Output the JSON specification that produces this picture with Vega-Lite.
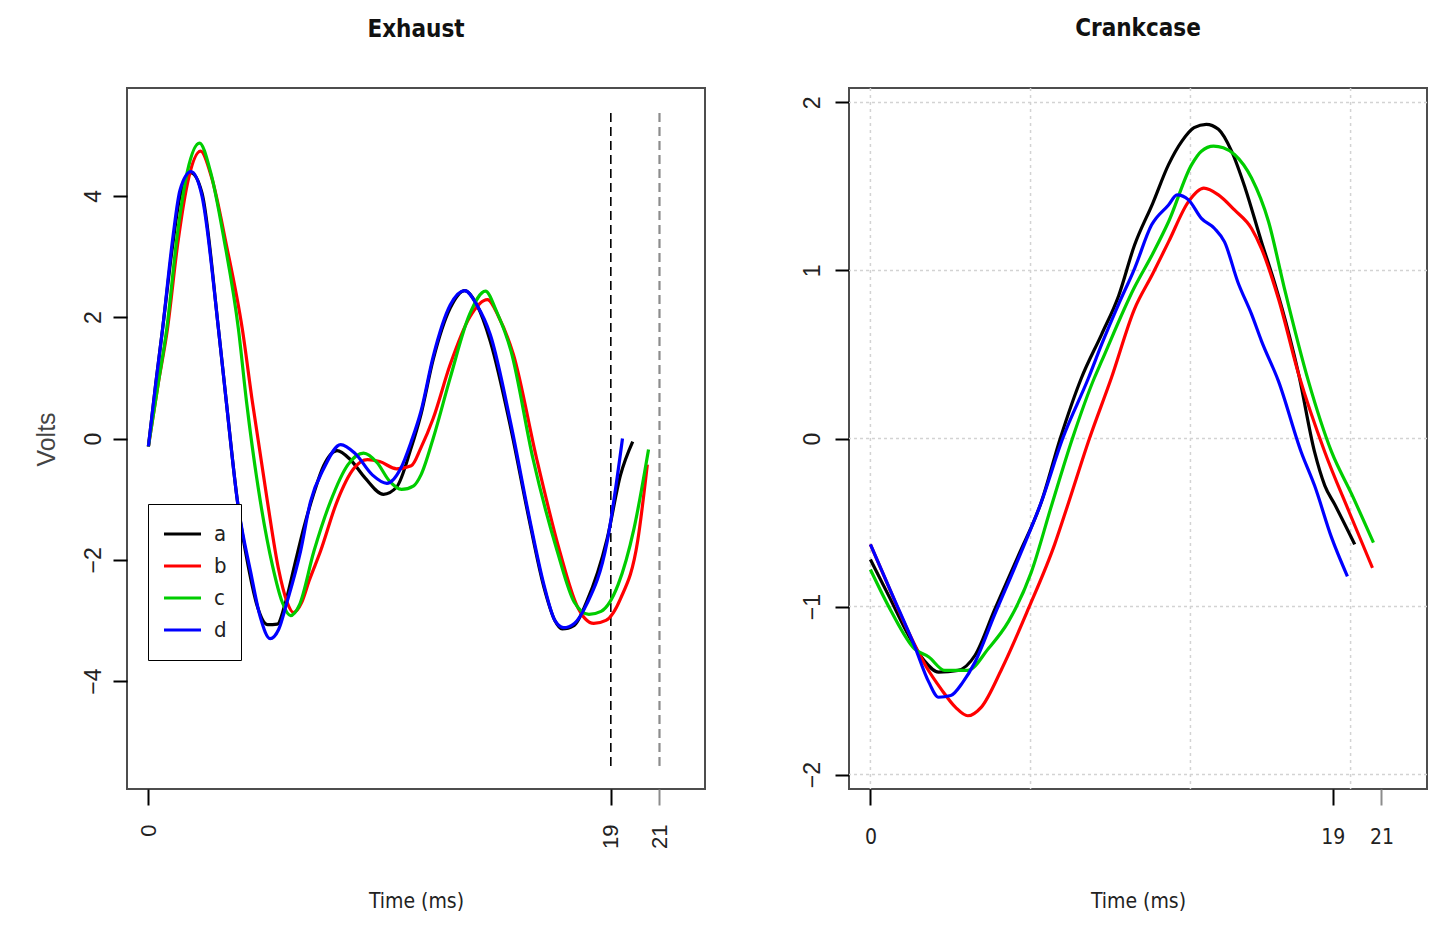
{
  "$schema": "https://vega.github.io/schema/vega-lite/v6.json",
  "background": "white",
  "padding": {"left": 33, "top": 16, "right": 5, "bottom": 5},
  "bounds": "flush",
  "spacing": 144,
  "resolve": {"scale": {"color": "independent"}, "legend": {"color": "independent"}},
  "config": {
    "view": {"stroke": "#4d4d4d", "strokeWidth": 2},
    "axis": {"domain": false, "grid": false, "tickWidth": 2, "labelColor": "#222", "titleColor": "#222", "titleFontWeight": "normal", "labelFont": "Liberation Sans", "titleFont": "Liberation Sans Narrow, DejaVu Sans Condensed, Liberation Sans, sans-serif"},
    "title": {"font": "Liberation Sans Narrow, DejaVu Sans Condensed, Liberation Sans, sans-serif", "fontSize": 24, "fontWeight": "bold", "color": "#111", "anchor": "middle"},
    "line": {"strokeWidth": 3.2, "interpolate": "monotone"}
  },
  "datasets": {
    "exhaust": [
      {"s":"a","t":0,"v":-0.13},{"s":"a","t":0.3,"v":0.9},{"s":"a","t":0.58,"v":1.8},{"s":"a","t":1.0,"v":3.2},{"s":"a","t":1.3,"v":4.0},{"s":"a","t":1.75,"v":4.38},{"s":"a","t":2.2,"v":4.05},{"s":"a","t":2.88,"v":1.8},{"s":"a","t":3.2,"v":0.61},{"s":"a","t":3.66,"v":-1.04},{"s":"a","t":4.1,"v":-2.1},{"s":"a","t":4.5,"v":-2.8},{"s":"a","t":4.9,"v":-3.07},{"s":"a","t":5.3,"v":-3.06},{"s":"a","t":5.6,"v":-2.75},{"s":"a","t":6.0,"v":-2.1},{"s":"a","t":6.4,"v":-1.45},{"s":"a","t":6.8,"v":-0.9},{"s":"a","t":7.2,"v":-0.45},{"s":"a","t":7.75,"v":-0.2},{"s":"a","t":8.3,"v":-0.35},{"s":"a","t":8.9,"v":-0.65},{"s":"a","t":9.66,"v":-0.92},{"s":"a","t":10.2,"v":-0.8},{"s":"a","t":10.8,"v":-0.15},{"s":"a","t":11.2,"v":0.4},{"s":"a","t":11.7,"v":1.3},{"s":"a","t":12.4,"v":2.15},{"s":"a","t":13.0,"v":2.44},{"s":"a","t":13.5,"v":2.2},{"s":"a","t":14.05,"v":1.6},{"s":"a","t":14.9,"v":0.15},{"s":"a","t":15.6,"v":-1.25},{"s":"a","t":16.25,"v":-2.45},{"s":"a","t":16.7,"v":-3.0},{"s":"a","t":17.0,"v":-3.14},{"s":"a","t":17.5,"v":-3.08},{"s":"a","t":18.0,"v":-2.7},{"s":"a","t":18.85,"v":-1.65},{"s":"a","t":19.4,"v":-0.6},{"s":"a","t":19.9,"v":-0.05},
      {"s":"b","t":0,"v":-0.13},{"s":"b","t":0.4,"v":0.9},{"s":"b","t":0.78,"v":1.8},{"s":"b","t":1.2,"v":3.2},{"s":"b","t":1.6,"v":4.2},{"s":"b","t":2.14,"v":4.74},{"s":"b","t":2.6,"v":4.3},{"s":"b","t":3.2,"v":3.2},{"s":"b","t":3.86,"v":1.8},{"s":"b","t":4.27,"v":0.61},{"s":"b","t":4.89,"v":-1.04},{"s":"b","t":5.34,"v":-2.14},{"s":"b","t":5.7,"v":-2.7},{"s":"b","t":5.96,"v":-2.87},{"s":"b","t":6.3,"v":-2.7},{"s":"b","t":6.6,"v":-2.35},{"s":"b","t":7.07,"v":-1.86},{"s":"b","t":7.75,"v":-1.04},{"s":"b","t":8.43,"v":-0.5},{"s":"b","t":9.0,"v":-0.35},{"s":"b","t":9.5,"v":-0.38},{"s":"b","t":10.2,"v":-0.5},{"s":"b","t":10.8,"v":-0.45},{"s":"b","t":11.2,"v":-0.15},{"s":"b","t":11.7,"v":0.33},{"s":"b","t":12.4,"v":1.22},{"s":"b","t":13.2,"v":2.0},{"s":"b","t":13.93,"v":2.29},{"s":"b","t":14.4,"v":2.0},{"s":"b","t":15.0,"v":1.38},{"s":"b","t":15.95,"v":-0.33},{"s":"b","t":16.9,"v":-1.86},{"s":"b","t":17.6,"v":-2.75},{"s":"b","t":18.3,"v":-3.05},{"s":"b","t":18.8,"v":-3.0},{"s":"b","t":19.4,"v":-2.64},{"s":"b","t":20.1,"v":-1.7},{"s":"b","t":20.5,"v":-0.43},
      {"s":"c","t":0,"v":-0.13},{"s":"c","t":0.4,"v":0.9},{"s":"c","t":0.75,"v":1.8},{"s":"c","t":1.2,"v":3.4},{"s":"c","t":1.6,"v":4.4},{"s":"c","t":2.1,"v":4.87},{"s":"c","t":2.55,"v":4.4},{"s":"c","t":3.1,"v":3.3},{"s":"c","t":3.7,"v":1.8},{"s":"c","t":4.03,"v":0.61},{"s":"c","t":4.6,"v":-1.04},{"s":"c","t":5.1,"v":-2.1},{"s":"c","t":5.5,"v":-2.7},{"s":"c","t":5.84,"v":-2.92},{"s":"c","t":6.2,"v":-2.75},{"s":"c","t":6.8,"v":-1.86},{"s":"c","t":7.48,"v":-1.04},{"s":"c","t":8.2,"v":-0.43},{"s":"c","t":8.84,"v":-0.24},{"s":"c","t":9.4,"v":-0.4},{"s":"c","t":9.9,"v":-0.7},{"s":"c","t":10.4,"v":-0.84},{"s":"c","t":10.9,"v":-0.78},{"s":"c","t":11.2,"v":-0.6},{"s":"c","t":11.7,"v":0.0},{"s":"c","t":12.4,"v":1.0},{"s":"c","t":13.2,"v":2.05},{"s":"c","t":13.85,"v":2.43},{"s":"c","t":14.3,"v":2.1},{"s":"c","t":14.9,"v":1.44},{"s":"c","t":15.8,"v":-0.33},{"s":"c","t":16.8,"v":-1.86},{"s":"c","t":17.5,"v":-2.7},{"s":"c","t":18.1,"v":-2.9},{"s":"c","t":18.6,"v":-2.85},{"s":"c","t":19.3,"v":-2.41},{"s":"c","t":19.95,"v":-1.49},{"s":"c","t":20.55,"v":-0.18},
      {"s":"d","t":0,"v":-0.13},{"s":"d","t":0.3,"v":0.9},{"s":"d","t":0.58,"v":1.8},{"s":"d","t":1.0,"v":3.3},{"s":"d","t":1.3,"v":4.1},{"s":"d","t":1.75,"v":4.4},{"s":"d","t":2.2,"v":4.0},{"s":"d","t":2.88,"v":1.8},{"s":"d","t":3.2,"v":0.61},{"s":"d","t":3.66,"v":-1.04},{"s":"d","t":4.2,"v":-2.2},{"s":"d","t":4.6,"v":-2.95},{"s":"d","t":5.0,"v":-3.3},{"s":"d","t":5.35,"v":-3.15},{"s":"d","t":5.7,"v":-2.69},{"s":"d","t":6.25,"v":-1.86},{"s":"d","t":6.66,"v":-1.04},{"s":"d","t":7.2,"v":-0.5},{"s":"d","t":7.9,"v":-0.1},{"s":"d","t":8.5,"v":-0.25},{"s":"d","t":9.2,"v":-0.6},{"s":"d","t":9.8,"v":-0.74},{"s":"d","t":10.36,"v":-0.5},{"s":"d","t":10.8,"v":-0.05},{"s":"d","t":11.2,"v":0.45},{"s":"d","t":11.7,"v":1.35},{"s":"d","t":12.4,"v":2.2},{"s":"d","t":13.0,"v":2.44},{"s":"d","t":13.5,"v":2.2},{"s":"d","t":14.05,"v":1.71},{"s":"d","t":14.9,"v":0.23},{"s":"d","t":15.6,"v":-1.2},{"s":"d","t":16.25,"v":-2.41},{"s":"d","t":16.7,"v":-3.0},{"s":"d","t":17.06,"v":-3.12},{"s":"d","t":17.5,"v":-3.05},{"s":"d","t":18.0,"v":-2.74},{"s":"d","t":18.85,"v":-1.7},{"s":"d","t":19.48,"v":0.0}
    ],
    "crank": [
      {"s":"a","t":0,"v":-0.72},{"s":"a","t":0.8,"v":-0.95},{"s":"a","t":1.56,"v":-1.17},{"s":"a","t":2.2,"v":-1.32},{"s":"a","t":2.8,"v":-1.39},{"s":"a","t":3.6,"v":-1.38},{"s":"a","t":4.3,"v":-1.29},{"s":"a","t":5.1,"v":-1.02},{"s":"a","t":6.07,"v":-0.7},{"s":"a","t":7.03,"v":-0.375},{"s":"a","t":7.8,"v":0.0},{"s":"a","t":8.67,"v":0.36},{"s":"a","t":9.5,"v":0.62},{"s":"a","t":10.2,"v":0.85},{"s":"a","t":10.85,"v":1.15},{"s":"a","t":11.6,"v":1.4},{"s":"a","t":12.25,"v":1.63},{"s":"a","t":12.8,"v":1.77},{"s":"a","t":13.3,"v":1.85},{"s":"a","t":13.8,"v":1.87},{"s":"a","t":14.3,"v":1.84},{"s":"a","t":14.84,"v":1.71},{"s":"a","t":15.4,"v":1.49},{"s":"a","t":16.07,"v":1.17},{"s":"a","t":16.6,"v":0.93},{"s":"a","t":17.2,"v":0.62},{"s":"a","t":17.6,"v":0.38},{"s":"a","t":18.25,"v":-0.08},{"s":"a","t":18.67,"v":-0.28},{"s":"a","t":19.07,"v":-0.39},{"s":"a","t":19.9,"v":-0.63},
      {"s":"b","t":0,"v":-0.63},{"s":"b","t":0.8,"v":-0.9},{"s":"b","t":1.56,"v":-1.15},{"s":"b","t":2.3,"v":-1.36},{"s":"b","t":2.9,"v":-1.49},{"s":"b","t":3.5,"v":-1.6},{"s":"b","t":4.0,"v":-1.65},{"s":"b","t":4.55,"v":-1.6},{"s":"b","t":5.4,"v":-1.37},{"s":"b","t":6.5,"v":-1.01},{"s":"b","t":7.57,"v":-0.63},{"s":"b","t":8.1,"v":-0.4},{"s":"b","t":9.0,"v":0.0},{"s":"b","t":9.9,"v":0.36},{"s":"b","t":10.85,"v":0.77},{"s":"b","t":11.6,"v":0.98},{"s":"b","t":12.25,"v":1.17},{"s":"b","t":13.07,"v":1.41},{"s":"b","t":13.7,"v":1.49},{"s":"b","t":14.3,"v":1.45},{"s":"b","t":14.96,"v":1.36},{"s":"b","t":15.66,"v":1.25},{"s":"b","t":16.07,"v":1.13},{"s":"b","t":16.77,"v":0.83},{"s":"b","t":17.6,"v":0.38},{"s":"b","t":18.67,"v":-0.08},{"s":"b","t":19.65,"v":-0.43},{"s":"b","t":20.63,"v":-0.77},
      {"s":"c","t":0,"v":-0.78},{"s":"c","t":0.86,"v":-1.03},{"s":"c","t":1.8,"v":-1.25},{"s":"c","t":2.4,"v":-1.3},{"s":"c","t":3.05,"v":-1.38},{"s":"c","t":4.0,"v":-1.38},{"s":"c","t":4.85,"v":-1.25},{"s":"c","t":5.67,"v":-1.09},{"s":"c","t":6.6,"v":-0.8},{"s":"c","t":7.44,"v":-0.4},{"s":"c","t":8.3,"v":0.0},{"s":"c","t":9.2,"v":0.36},{"s":"c","t":9.5,"v":0.46},{"s":"c","t":10.85,"v":0.9},{"s":"c","t":11.6,"v":1.1},{"s":"c","t":12.25,"v":1.29},{"s":"c","t":13.2,"v":1.63},{"s":"c","t":13.6,"v":1.71},{"s":"c","t":14.1,"v":1.74},{"s":"c","t":14.5,"v":1.73},{"s":"c","t":14.96,"v":1.69},{"s":"c","t":15.66,"v":1.55},{"s":"c","t":16.36,"v":1.29},{"s":"c","t":17.0,"v":0.9},{"s":"c","t":18.0,"v":0.34},{"s":"c","t":18.95,"v":-0.08},{"s":"c","t":19.77,"v":-0.33},{"s":"c","t":20.67,"v":-0.62},
      {"s":"d","t":0,"v":-0.63},{"s":"d","t":0.9,"v":-0.93},{"s":"d","t":1.8,"v":-1.23},{"s":"d","t":2.4,"v":-1.45},{"s":"d","t":2.8,"v":-1.54},{"s":"d","t":3.3,"v":-1.53},{"s":"d","t":3.8,"v":-1.45},{"s":"d","t":4.3,"v":-1.33},{"s":"d","t":5.1,"v":-1.05},{"s":"d","t":6.07,"v":-0.72},{"s":"d","t":7.03,"v":-0.375},{"s":"d","t":7.9,"v":0.0},{"s":"d","t":8.96,"v":0.36},{"s":"d","t":9.5,"v":0.56},{"s":"d","t":10.2,"v":0.8},{"s":"d","t":10.85,"v":1.01},{"s":"d","t":11.55,"v":1.27},{"s":"d","t":12.25,"v":1.39},{"s":"d","t":12.6,"v":1.45},{"s":"d","t":13.07,"v":1.42},{"s":"d","t":13.6,"v":1.31},{"s":"d","t":14.14,"v":1.25},{"s":"d","t":14.55,"v":1.17},{"s":"d","t":15.1,"v":0.93},{"s":"d","t":15.66,"v":0.74},{"s":"d","t":16.07,"v":0.58},{"s":"d","t":16.77,"v":0.34},{"s":"d","t":17.7,"v":-0.08},{"s":"d","t":18.25,"v":-0.28},{"s":"d","t":18.95,"v":-0.59},{"s":"d","t":19.6,"v":-0.82}
    ]
  },
  "hconcat": [
    {
      "width": 578,
      "height": 701,
      "title": {"text": "Exhaust", "offset": 27, "baseline": "alphabetic"},
      "layer": [
        {
          "data": {"values": [{"t": 19, "v": -5.4, "v2": 5.4}]},
          "mark": {"type": "rule", "color": "#000000", "strokeWidth": 1.6, "strokeDash": [9, 5]},
          "encoding": {
            "x": {"field": "t", "type": "quantitative", "scale": {"domain": [-0.88, 22.87], "nice": false, "zero": false}},
            "y": {"field": "v", "type": "quantitative", "scale": {"domain": [-5.78, 5.78], "nice": false, "zero": false}},
            "y2": {"field": "v2"}
          }
        },
        {
          "data": {"values": [{"t": 21, "v": -5.4, "v2": 5.4}]},
          "mark": {"type": "rule", "color": "#8c8c8c", "strokeWidth": 2.2, "strokeDash": [9, 5]},
          "encoding": {
            "x": {"field": "t", "type": "quantitative", "scale": {"domain": [-0.88, 22.87], "nice": false, "zero": false}},
            "y": {"field": "v", "type": "quantitative", "scale": {"domain": [-5.78, 5.78], "nice": false, "zero": false}},
            "y2": {"field": "v2"}
          }
        },
        {
          "data": {"name": "exhaust"},
          "mark": {"type": "line"},
          "encoding": {
            "x": {
              "field": "t", "type": "quantitative",
              "scale": {"domain": [-0.88, 22.87], "nice": false, "zero": false},
              "axis": {
                "title": "Time (ms)", "values": [0, 19, 21], "format": "d",
                "labelAngle": 270, "labelAlign": "right", "labelBaseline": "middle",
                "labelFontSize": 22, "labelPadding": 19, "tickSize": 16,
                "tickColor": {"condition": {"test": "datum.value === 21", "value": "#8c8c8c"}, "value": "#000000"},
                "titleFontSize": 21, "titleY": 118, "titleBaseline": "alphabetic"
              }
            },
            "y": {
              "field": "v", "type": "quantitative",
              "scale": {"domain": [-5.78, 5.78], "nice": false, "zero": false},
              "axis": {
                "title": "Volts", "values": [-4, -2, 0, 2, 4], "format": "d",
                "labelAngle": 270, "labelAlign": "center", "labelBaseline": "alphabetic",
                "labelFontSize": 23, "labelPadding": 13, "tickSize": 14, "tickColor": "#000000",
                "titleFont": "Liberation Sans", "titleFontSize": 25, "titleColor": "#444",
                "titleAngle": 270, "titleX": -73, "titleY": 351, "titleBaseline": "alphabetic", "titleAlign": "center"
              }
            },
            "color": {
              "field": "s", "type": "nominal",
              "scale": {"domain": ["a", "b", "c", "d"], "range": ["#000000", "#ff0000", "#00cd00", "#0000ff"]},
              "legend": {
                "orient": "none", "legendX": 21, "legendY": 416, "title": null, "direction": "vertical",
                "symbolType": "stroke", "symbolSize": 1369, "symbolStrokeWidth": 3.2,
                "labelFont": "Liberation Sans Narrow, DejaVu Sans Condensed, Liberation Sans, sans-serif", "labelFontSize": 22, "labelColor": "#222", "labelOffset": 11,
                "padding": 14, "strokeColor": "#000000", "fillColor": "#ffffff",
                "clipHeight": 32, "rowPadding": 0
              }
            }
          }
        }
      ]
    },
    {
      "width": 578,
      "height": 701,
      "title": {"text": "Crankcase", "offset": 27, "baseline": "alphabetic"},
      "layer": [
        {
          "data": {"values": [{"t": 0}, {"t": 6.58}, {"t": 13.15}, {"t": 19.73}]},
          "mark": {"type": "rule", "color": "#d3d3d3", "strokeWidth": 1.5, "strokeDash": [3, 4]},
          "encoding": {
            "x": {"field": "t", "type": "quantitative", "scale": {"domain": [-0.88, 22.87], "nice": false, "zero": false}}
          }
        },
        {
          "data": {"values": [{"v": -2}, {"v": -1}, {"v": 0}, {"v": 1}, {"v": 2}]},
          "mark": {"type": "rule", "color": "#d3d3d3", "strokeWidth": 1.5, "strokeDash": [3, 3]},
          "encoding": {
            "y": {"field": "v", "type": "quantitative", "scale": {"domain": [-2.086, 2.086], "nice": false, "zero": false}}
          }
        },
        {
          "data": {"name": "crank"},
          "mark": {"type": "line"},
          "encoding": {
            "x": {
              "field": "t", "type": "quantitative",
              "scale": {"domain": [-0.88, 22.87], "nice": false, "zero": false},
              "axis": {
                "title": "Time (ms)", "values": [0, 19, 21], "format": "d",
                "labelAngle": 0, "labelAlign": "center", "labelBaseline": "top",
                "labelFont": "Liberation Sans Narrow, DejaVu Sans Condensed, Liberation Sans, sans-serif", "labelFontSize": 21, "labelPadding": 21, "tickSize": 16,
                "tickColor": {"condition": {"test": "datum.value === 21", "value": "#8c8c8c"}, "value": "#000000"},
                "titleFontSize": 21, "titleY": 118, "titleBaseline": "alphabetic"
              }
            },
            "y": {
              "field": "v", "type": "quantitative",
              "scale": {"domain": [-2.086, 2.086], "nice": false, "zero": false},
              "axis": {
                "title": null, "values": [-2, -1, 0, 1, 2], "format": "d",
                "labelAngle": 270, "labelAlign": "center", "labelBaseline": "alphabetic",
                "labelFontSize": 23, "labelPadding": 16, "tickSize": 14, "tickColor": "#000000"
              }
            },
            "color": {
              "field": "s", "type": "nominal",
              "scale": {"domain": ["a", "b", "c", "d"], "range": ["#000000", "#ff0000", "#00cd00", "#0000ff"]},
              "legend": null
            }
          }
        }
      ]
    }
  ]
}
